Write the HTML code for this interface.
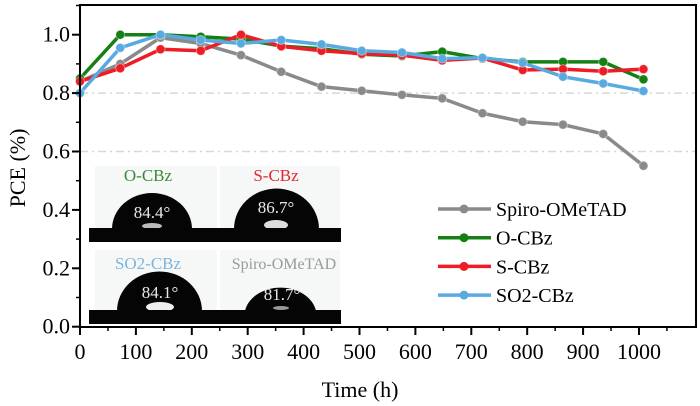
<!DOCTYPE html>
<html><head><meta charset="utf-8"><style>
html,body{margin:0;padding:0;background:#fff;}
svg{display:block;font-family:"Liberation Serif",serif;}
</style></head><body>
<svg id="chart" width="700" height="406" viewBox="0 0 700 406" xmlns="http://www.w3.org/2000/svg">
<g id="grid"></g>
<g id="inset">
  <rect x="95" y="166" width="122" height="62" fill="#f6f8f8"/>
  <rect x="220" y="166" width="120" height="62" fill="#f6f8f8"/>
  <rect x="95" y="250" width="122" height="60" fill="#f6f8f8"/>
  <rect x="220" y="250" width="120" height="60" fill="#f6f8f8"/>
  <path d="M112,229 A40,36 0 0 1 192,229 Z" fill="#050505"/>
  <path d="M234,229 A42,40 0 0 1 319,229 Z" fill="#050505"/>
  <path d="M117,311 A42,39 0 0 1 202,311 Z" fill="#050505"/>
  <path d="M245,311 A36,28 0 0 1 316,311 Z" fill="#050505"/>
  <ellipse cx="152" cy="226" rx="10" ry="3" fill="#bbb"/>
  <ellipse cx="276" cy="225" rx="12" ry="5" fill="#ddd"/>
  <ellipse cx="160" cy="307" rx="14" ry="5" fill="#eee"/>
  <ellipse cx="281" cy="308" rx="8" ry="2" fill="#999"/>
  <rect x="89" y="228" width="252" height="14" fill="#050505"/>
  <rect x="89" y="310" width="252" height="14" fill="#050505"/>
  <text x="148" y="181" font-size="17" fill="#3a8a3a" text-anchor="middle">O-CBz</text>
  <text x="276" y="181" font-size="17" fill="#e3262e" text-anchor="middle">S-CBz</text>
  <text x="148" y="269" font-size="17" fill="#7db5dc" text-anchor="middle">SO2-CBz</text>
  <text x="284" y="269" font-size="16" fill="#9a9a9a" text-anchor="middle">Spiro-OMeTAD</text>
  <text x="152" y="218" font-size="17" fill="#e8e8e8" text-anchor="middle">84.4°</text>
  <text x="276" y="213" font-size="17" fill="#e8e8e8" text-anchor="middle">86.7°</text>
  <text x="160" y="298" font-size="17" fill="#e8e8e8" text-anchor="middle">84.1°</text>
  <text x="282" y="300" font-size="17" fill="#e8e8e8" text-anchor="middle">81.7°</text>
</g>
<g id="series"></g>
<rect x="80" y="5" width="616" height="322" fill="none" stroke="#000" stroke-width="2"/>
<g id="axes"></g>
<text transform="translate(25,168) rotate(-90)" font-size="22" text-anchor="middle">PCE (%)</text>
<text x="360" y="397" font-size="22" text-anchor="middle">Time (h)</text>
<g id="legend"></g>
</svg>
<script>
const times = [0,72,144,216,288,360,432,504,576,648,720,792,864,936,1008];
const seriesNames = ["Spiro-OMeTAD","O-CBz","S-CBz","SO2-CBz"];
const spiro = [0.84,0.90,0.99,0.97,0.93,0.873,0.822,0.808,0.794,0.782,0.731,0.702,0.692,0.66,0.551];
const ocbz  = [0.85,1.0,1.0,0.993,0.985,0.961,0.952,0.933,0.927,0.942,0.918,0.907,0.907,0.907,0.847];
const scbz  = [0.84,0.885,0.95,0.945,1.0,0.96,0.945,0.935,0.93,0.912,0.92,0.879,0.882,0.875,0.882];
const so2cbz= [0.80,0.955,1.0,0.982,0.97,0.982,0.967,0.945,0.939,0.918,0.921,0.904,0.856,0.833,0.807];
const xTicks = [0,100,200,300,400,500,600,700,800,900,1000];
const yTicks = [0.0,0.2,0.4,0.6,0.8,1.0];
const gridVals = [0.6,0.8];
const colors = ["#8a8a8a","#148014","#ee1c24","#5aaae2"];
const NS="http://www.w3.org/2000/svg";
const X0=80,X1=696,Y0=326.7,Y1=5;
function sx(v){return X0+(v/1102)*(X1-X0);}
function sy(v){return Y0-(v/0.2)*58.4;}
function mk(tag,attrs,parent){const e=document.createElementNS(NS,tag);for(const k in attrs)e.setAttribute(k,attrs[k]);parent.appendChild(e);return e;}
const grid=document.getElementById('grid');
gridVals.forEach(v=>{const l=mk('line',{x1:X0,x2:X1,y1:sy(v),y2:sy(v),stroke:'#d8d8d8','stroke-width':1.5,'stroke-dasharray':'8,4,2,4'},grid);

});
const axes=document.getElementById('axes');
xTicks.forEach(v=>{const l=mk('line',{x1:sx(v),x2:sx(v),y1:327,y2:335,stroke:'#000','stroke-width':2},axes);


const t=mk('text',{x:sx(v),y:359,'font-size':22,'text-anchor':'middle'},axes);t.textContent=v;


const m=mk('line',{x1:sx(v+50),x2:sx(v+50),y1:327,y2:331,stroke:'#000','stroke-width':1.5},axes);

});
yTicks.forEach(v=>{const l=mk('line',{x1:72,x2:80,y1:sy(v),y2:sy(v),stroke:'#000','stroke-width':2},axes);


const t=mk('text',{x:70,y:sy(v)+7,'font-size':22,'text-anchor':'end'},axes);t.textContent=v.toFixed(1);


const m=mk('line',{x1:76,x2:80,y1:sy(v+0.1),y2:sy(v+0.1),stroke:'#000','stroke-width':1.5},axes);

});
const sg=document.getElementById('series');
const all=[spiro,ocbz,scbz,so2cbz];
all.forEach((vals,i)=>{const g=mk('g',{},sg);


const p=mk('polyline',{points:vals.map((v,j)=>sx(times[j])+','+sy(v)).join(' '),fill:'none',stroke:colors[i],'stroke-width':3.5,'stroke-linejoin':'round'},g);


vals.forEach((v,j)=>{const c=mk('circle',{cx:sx(times[j]),cy:sy(v),r:4.5,fill:colors[i],stroke:'#fff','stroke-opacity':0.4,'stroke-width':1},g);

});});
const lg=document.getElementById('legend');
seriesNames.forEach((n,i)=>{const y=209+i*28.7;
const l=mk('line',{x1:438,x2:491,y1:y,y2:y,stroke:colors[i],'stroke-width':3.5},lg);


const c=mk('circle',{cx:464,cy:y,r:4.5,fill:colors[i]},lg);


const t=mk('text',{x:496,y:y+7,'font-size':20},lg);t.textContent=n;

});
</script>
</body></html>
